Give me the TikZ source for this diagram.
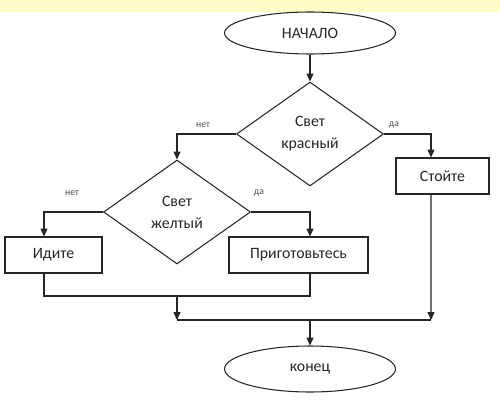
\documentclass[tikz,border=0pt]{standalone}
\usepackage{fontspec}
\setmainfont{Carlito}
\usetikzlibrary{shapes.geometric,arrows.meta}
\begin{document}
\begin{tikzpicture}
  [x=0.02cm,y=-0.02cm,line width=0.6pt,black!85,font=\fontsize{9}{11}\selectfont,
   term/.style={ellipse,draw,inner sep=0pt,minimum width=3.42cm},
   cond/.style={diamond,draw,inner sep=0pt,align=center,minimum width=2.94cm,minimum height=2.08cm,
     font=\fontsize{9}{12.5}\selectfont},
   act/.style={rectangle,draw,inner sep=0pt,minimum height=0.72cm},
   lbl/.style={font=\fontsize{5.5}{6}\selectfont,black!70},
   arr/.style={-{Triangle[length=4.5pt,width=4pt]}}]
\useasboundingbox (0,0) rectangle (500,402);
\fill[yellow!22] (0,0) rectangle (500,12);
\node (start)[term,minimum height=0.84cm] at (310,33) {НАЧАЛО};
  \node (red)[cond] at (310,134) {Свет\\красный};
  \node (yellow)[cond] at (177,212) {Свет\\желтый};
  \node (stop)[act,minimum width=1.86cm] at (442.5,176) {Стойте};
  \node (go)[act,minimum width=1.94cm] at (53.5,255) {Идите};
  \node (ready)[act,minimum width=2.78cm] at (298.5,255) {Приготовьтесь};
  \node (end)[term,minimum height=0.92cm] at (310,369) {конец};
\node (no1)[lbl] at (203,125) {нет};
  \node (yes1)[lbl] at (394,125) {да};
  \node (no2)[lbl] at (72,193) {нет};
  \node (yes2)[lbl] at (259,193) {да};
\coordinate (m1) at (177,296);
  \coordinate (m2) at (177,320);
  \coordinate (m3) at (431,320);
  \coordinate (m4) at (310,320);
 %\foreach \from/\to in {start/red,m4/end}
 %   \draw[arr] (\from) -- (\to);
 \draw[arr] (start) -- (red);
 \draw[arr] (red.west) -| (yellow.north);
 \draw[arr] (red.east) -| ([xshift=-0.23cm]stop.north);
 \draw[arr] (yellow.west) -| ([xshift=-0.19cm]go.north);
 \draw[arr] (yellow.east) -| ([xshift=0.23cm]ready.north);
 \draw ([xshift=-0.19cm]go.south) |- (m1) -| ([xshift=0.23cm]ready.south);
 \draw[arr] (m1) -- (m2);
 \draw[arr] ([xshift=-0.23cm]stop.south) -- (m3);
 \draw (m2) -- (m3);
 \draw[arr] (m4) -- (end);
\end{tikzpicture}
\end{document}
